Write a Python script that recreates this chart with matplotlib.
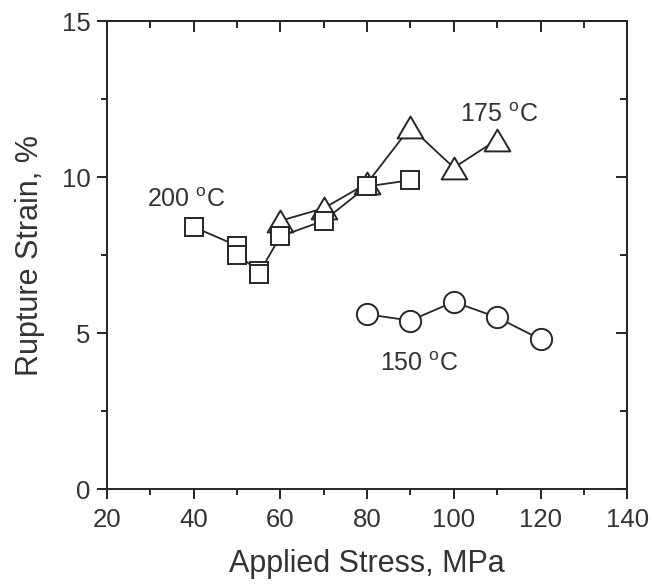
import matplotlib.pyplot as plt
from matplotlib.path import Path
from matplotlib.ticker import MultipleLocator

# data
stress_150 = [80, 90, 100, 110, 120]
strain_150 = [5.6, 5.4, 6.0, 5.5, 4.8]

stress_175 = [60, 70, 80, 90, 100, 110]
strain_175 = [8.6, 9.0, 9.8, 11.6, 10.3, 11.2]

stress_200 = [40, 50, 50, 55, 55, 60, 70, 80, 90]
strain_200 = [8.4, 7.8, 7.5, 7.0, 6.9, 8.1, 8.6, 9.7, 9.9]

labels = ['200 $^{\\mathrm{o}}$C', '175 $^{\\mathrm{o}}$C', '150 $^{\\mathrm{o}}$C']
label_pos = [(29.2, 9.04), (101.5, 11.77), (83.0, 3.79)]

plt.rcParams['font.family'] = ['Liberation Sans', 'DejaVu Sans']
plt.rcParams['mathtext.fontset'] = 'custom'
plt.rcParams['mathtext.rm'] = 'Liberation Sans'

ink = '#262626'
tri = Path([(-1, -0.85), (1, -0.85), (0, 0.85), (-1, -0.85)], closed=True)

fig = plt.figure(figsize=(6.52, 5.86), dpi=100)
ax = fig.add_axes([0.164, 0.1655, 0.798, 0.7985])

style = dict(color=ink, linewidth=1.3, markerfacecolor='white',
             markeredgecolor=ink, markeredgewidth=1.4)
ax.plot(stress_175, strain_175, marker=tri, markersize=18.5, **style)
ax.plot(stress_200, strain_200, marker='s', markersize=12.5, **style)
ax.plot(stress_150, strain_150, marker='o', markersize=15.3, **style)

for txt, (x, y) in zip(labels, label_pos):
    ax.text(x, y, txt, fontsize=18, color='#333333', ha='left', va='baseline')

ax.set_xlim(20, 140)
ax.set_ylim(0, 15)
ax.xaxis.set_major_locator(MultipleLocator(20))
ax.xaxis.set_minor_locator(MultipleLocator(10))
ax.yaxis.set_major_locator(MultipleLocator(5))
ax.yaxis.set_minor_locator(MultipleLocator(2.5))

ax.set_xlabel('Applied Stress, MPa', fontsize=22, color='#333333', labelpad=12)
ax.set_ylabel('Rupture Strain, %', fontsize=22, color='#333333', labelpad=12)

for s in ax.spines.values():
    s.set_linewidth(1.4)
    s.set_color(ink)

ax.tick_params(which='both', direction='out', top=False, right=False,
               color=ink, width=1.4, labelsize=18.5, labelcolor='#333333')
ax.tick_params(which='major', length=7)
ax.tick_params(which='minor', length=4.5)
ax.tick_params(axis='x', pad=7)
ax.tick_params(axis='y', pad=5)

# top and right ticks point inward
top = ax.secondary_xaxis('top')
top.xaxis.set_major_locator(MultipleLocator(20))
top.xaxis.set_minor_locator(MultipleLocator(10))
right = ax.secondary_yaxis('right')
right.yaxis.set_major_locator(MultipleLocator(5))
right.yaxis.set_minor_locator(MultipleLocator(2.5))
for sec in (top, right):
    sec.tick_params(which='both', direction='in', color=ink, width=1.4,
                    labeltop=False, labelright=False)
    sec.tick_params(which='major', length=8)
    sec.tick_params(which='minor', length=5)
    for s in sec.spines.values():
        s.set_linewidth(1.4)
        s.set_color(ink)

fig.savefig('out.png', dpi=100)
